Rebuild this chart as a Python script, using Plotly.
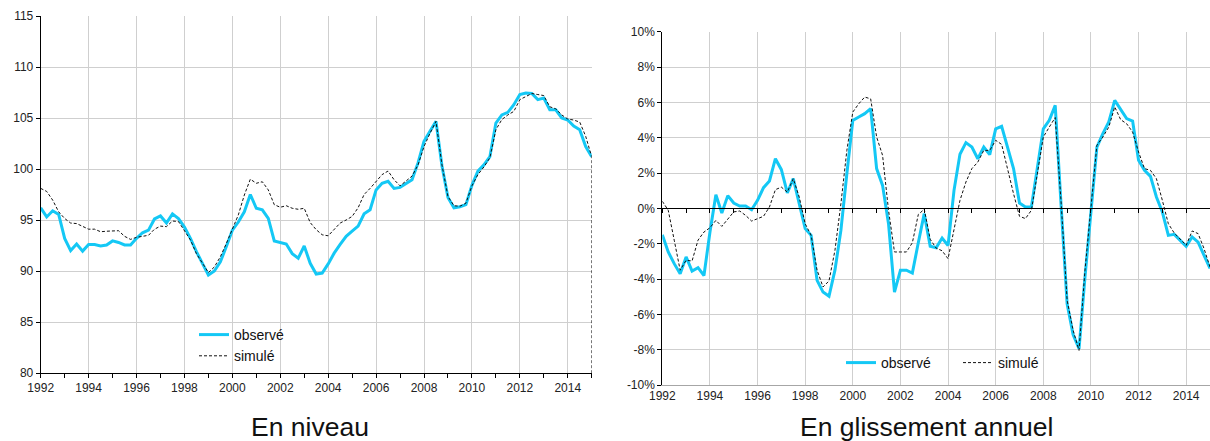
import plotly.graph_objects as go

# Quarterly time axis, 1992Q1 .. 2015Q1 (decimal years)
quarters = [1992 + i / 4 for i in range(93)]

# --- En niveau ---
observe_niveau = [
    96.2, 95.3, 95.9, 95.55, 93.2, 92.0, 92.65, 91.95,
    92.6, 92.6, 92.45, 92.55, 92.95, 92.8, 92.55, 92.55,
    93.2, 93.75, 94.0, 95.1, 95.4, 94.7, 95.6, 95.15,
    94.3, 93.2, 91.9, 90.75, 89.6, 90.0, 90.9, 92.4,
    94.0, 94.8, 95.8, 97.5, 96.15, 96.0, 95.15, 92.95,
    92.8, 92.65, 91.7, 91.25, 92.45, 90.75, 89.7, 89.8,
    90.7, 91.75, 92.6, 93.4, 93.9, 94.4, 95.6, 96.0,
    97.95, 98.6, 98.8, 98.1, 98.2, 98.55, 98.95, 100.6,
    102.7, 103.7, 104.67, 100.3, 97.2, 96.2, 96.3, 96.5,
    98.4, 99.8, 100.4, 101.2, 104.5, 105.3, 105.55, 106.3,
    107.3, 107.45, 107.4, 106.8, 106.95, 105.8, 105.8, 105.0,
    104.8, 104.2, 103.85, 102.2, 101.2,
]
simule_niveau = [
    98.1, 97.8, 96.95, 95.8, 95.15, 94.7, 94.65, 94.4,
    94.1, 94.1, 93.85, 93.9, 93.95, 93.95, 93.4, 93.1,
    93.3, 93.4, 93.5, 94.1, 94.4, 94.35, 94.9, 94.85,
    94.0, 93.05, 91.7, 90.75, 89.85, 90.4, 91.4, 92.7,
    94.2, 95.5, 97.45, 99.0, 98.6, 98.75, 97.95, 96.5,
    96.25, 96.4, 96.15, 96.05, 96.15, 94.75, 94.05, 93.55,
    93.45, 94.05, 94.7, 95.0, 95.35, 96.2, 97.5, 98.1,
    98.8, 99.45, 99.8, 98.95, 98.35, 98.8, 99.3, 100.4,
    102.2, 103.5, 104.67, 100.4, 97.3, 96.4, 96.35, 96.65,
    98.35, 99.45, 100.2, 101.1, 103.85, 104.85, 105.3, 105.65,
    106.8, 107.1, 107.4, 107.3, 107.2, 106.1, 105.9, 105.3,
    104.9, 104.8, 104.6, 103.2, 101.2,
    0.0,  # trailing empty cell plotted as zero (drop off the chart)
]
quarters_sim_niveau = quarters + [quarters[-1]]

# --- En glissement annuel (%) ---
observe_ga = [
    -1.5, -2.47, -3.13, -3.7, -2.75, -3.55, -3.36, -3.8,
    -1.35, 0.77, -0.26, 0.72, 0.3, 0.13, 0.13, -0.08,
    0.45, 1.17, 1.55, 2.81, 2.19, 0.87, 1.68, 0.26,
    -1.15, -1.53, -4.08, -4.74, -4.98, -3.5, -1.25, 1.96,
    4.98, 5.17, 5.36, 5.64, 2.25, 1.3, -0.87, -4.74,
    -3.5, -3.5, -3.66, -1.95, -0.3, -2.15, -2.23, -1.68,
    -2.1, 1.02, 3.06, 3.72, 3.47, 2.81, 3.47, 3.04,
    4.5, 4.64, 3.47, 2.25, 0.3, 0.08, 0.08, 2.34,
    4.5, 4.98, 5.83, 0.1, -5.4, -7.15, -7.95, -3.9,
    0.0, 3.47, 4.23, 4.89, 6.11, 5.58, 5.08, 4.94,
    2.72, 2.15, 1.81, 0.64, -0.21, -1.53, -1.47, -1.81,
    -2.15, -1.62, -1.91, -2.66, -3.4,
]
simule_ga = [
    0.4, -0.11, -1.8, -3.5, -2.94, -2.98, -1.8, -1.34,
    -1.1, -0.68, -1.02, -0.58, -0.2, -0.15, -0.4, -0.72,
    -0.58, -0.45, 0.08, 1.06, 1.2, 0.92, 1.68, 0.64,
    -0.87, -1.53, -3.5, -4.45, -4.11, -2.38, 0.26, 3.28,
    5.45, 5.92, 6.3, 6.2, 4.04, 3.0, -0.11, -2.47,
    -2.47, -2.47, -1.95, -0.35, -0.05, -1.75, -2.25, -2.4,
    -2.85, -1.25, 0.45, 1.49, 2.25, 2.62, 3.28, 3.28,
    3.85, 3.62, 2.15, 0.83, -0.45, -0.58, -0.11, 1.96,
    4.04, 4.6, 5.14, 0.3, -5.2, -6.9, -8.04, -3.5,
    0.08, 3.57, 4.04, 4.6, 5.74, 5.02, 4.79, 4.32,
    3.19, 2.25, 2.15, 1.68, 0.45, -0.87, -1.4, -1.72,
    -2.09, -1.28, -1.43, -2.28, -3.32,
]

ga_tickvals = [-10, -8, -6, -4, -2, 0, 2, 4, 6, 8, 10]
ga_ticktext = ["-10%", "-8%", "-6%", "-4%", "-2%", "0%", "2%", "4%", "6%", "8%", "10%"]

titles = ["En niveau", "En glissement annuel"]
series_names = ["observé", "simulé"]

CYAN = "#14C8F5"
FONT = "Liberation Sans, Arial, sans-serif"
GRID = "#CFCFCF"

W, H = 1210, 441
def px_x(v):
    return v / W
def px_y(v):
    return 1 - v / H

fig = go.Figure()

# Left chart
fig.add_trace(go.Scatter(x=quarters, y=observe_niveau, name=series_names[0], mode="lines",
                         line=dict(color=CYAN, width=3), xaxis="x", yaxis="y", legend="legend"))
fig.add_trace(go.Scatter(x=quarters_sim_niveau, y=simule_niveau, name=series_names[1], mode="lines",
                         line=dict(color="#111111", width=1, dash="3px,2px"), xaxis="x", yaxis="y",
                         legend="legend"))
# Right chart
fig.add_trace(go.Scatter(x=quarters, y=observe_ga, name=series_names[0], mode="lines",
                         line=dict(color=CYAN, width=3), xaxis="x2", yaxis="y2", legend="legend2"))
fig.add_trace(go.Scatter(x=quarters, y=simule_ga, name=series_names[1], mode="lines",
                         line=dict(color="#111111", width=1, dash="3px,2px"), xaxis="x3", yaxis="y2",
                         legend="legend2"))

tickfont = dict(family=FONT, size=12, color="#222222")

y1dom = [px_y(373), px_y(16)]
y2dom = [px_y(385), px_y(31.7)]
zero_pos = y2dom[0] + 0.5 * (y2dom[1] - y2dom[0])

fig.update_layout(
    template="none",
    width=W, height=H,
    margin=dict(l=0, r=0, t=0, b=0, pad=0, autoexpand=False),
    paper_bgcolor="white", plot_bgcolor="white",
    font=dict(family=FONT, color="#222222"),
    xaxis=dict(domain=[px_x(40.7), px_x(591.7)], range=[1992, 2015], tick0=1992, dtick=2,
               showgrid=True, gridcolor=GRID, gridwidth=1, zeroline=False,
               showline=True, linecolor="#000000", linewidth=1,
               ticks="outside", ticklen=4, tickcolor="#000000",
               minor=dict(dtick=1, tick0=1992, ticks="outside", ticklen=4, tickcolor="#000000", showgrid=False),
               tickfont=tickfont, anchor="y", automargin=False, fixedrange=True),
    yaxis=dict(domain=y1dom, range=[80, 115], tick0=80, dtick=5,
               showgrid=True, gridcolor=GRID, zeroline=False,
               showline=True, linecolor="#000000", linewidth=1,
               ticks="outside", ticklen=4, tickcolor="#000000",
               tickfont=tickfont, anchor="x", automargin=False, fixedrange=True),
    xaxis2=dict(domain=[px_x(662.3), 1.0], range=[1992, 2015], tick0=1992, dtick=2,
                showgrid=True, gridcolor=GRID, zeroline=False,
                showline=True, linecolor="#A6A6A6", linewidth=1,
                ticks="", tickfont=tickfont, anchor="y2", automargin=False, fixedrange=True),
    xaxis3=dict(overlaying="x2", anchor="free", position=zero_pos, range=[1992, 2015],
                tick0=1992, dtick=1, showgrid=False, zeroline=False,
                showline=True, linecolor="#000000", linewidth=1,
                ticks="outside", ticklen=4, tickcolor="#000000",
                showticklabels=False, automargin=False, fixedrange=True),
    yaxis2=dict(domain=y2dom, range=[-10, 10], tickvals=ga_tickvals, ticktext=ga_ticktext,
                showgrid=True, gridcolor=GRID, zeroline=False,
                showline=True, linecolor="#000000", linewidth=1,
                ticks="outside", ticklen=4, tickcolor="#000000",
                tickfont=tickfont, anchor="x2", automargin=False, fixedrange=True),
    legend=dict(x=px_x(194), y=px_y(319), xanchor="left", yanchor="top",
                font=dict(family=FONT, size=14, color="#111111"),
                bgcolor="rgba(0,0,0,0)", borderwidth=0, itemwidth=30, tracegroupgap=0,
                itemclick=False, itemdoubleclick=False),
    legend2=dict(orientation="h", x=px_x(841), y=px_y(347), xanchor="left", yanchor="top",
                 font=dict(family=FONT, size=14, color="#111111"),
                 bgcolor="rgba(0,0,0,0)", borderwidth=0, itemwidth=30, entrywidth=72,
                 entrywidthmode="pixels", itemclick=False, itemdoubleclick=False),
    showlegend=True,
    annotations=[
        dict(text=titles[0], x=px_x(310), y=px_y(427), xref="paper", yref="paper",
             xanchor="center", yanchor="middle", showarrow=False,
             font=dict(family=FONT, size=26.5, color="#111111")),
        dict(text=titles[1], x=px_x(926), y=px_y(427), xref="paper", yref="paper",
             xanchor="center", yanchor="middle", showarrow=False,
             font=dict(family=FONT, size=26.5, color="#111111")),
    ],
)

fig.write_html("out.html", config=dict(displayModeBar=False),
               post_script="document.body.style.margin='0';document.body.style.overflow='hidden';")
